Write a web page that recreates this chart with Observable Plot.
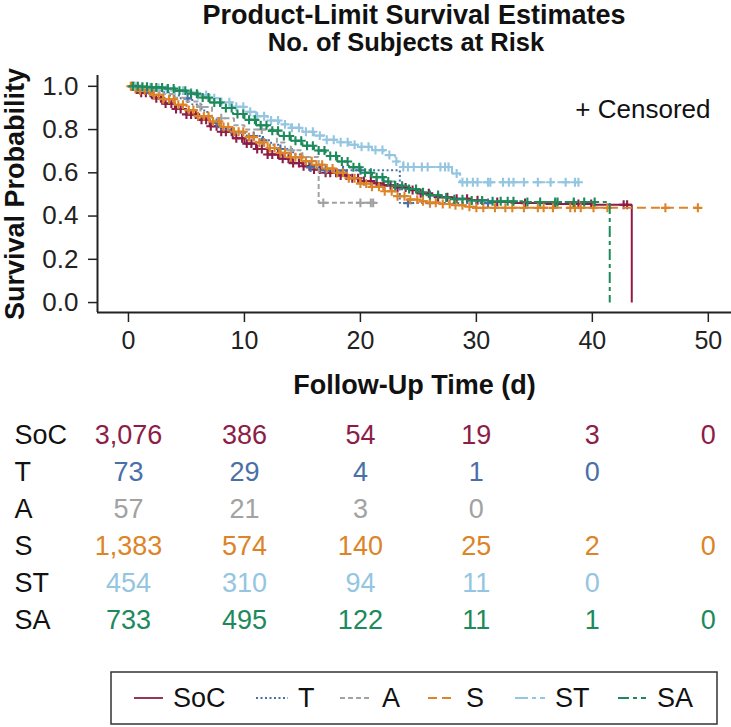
<!DOCTYPE html>
<html><head><meta charset="utf-8">
<script src="https://cdn.jsdelivr.net/npm/d3@7"></script>
<script src="https://cdn.jsdelivr.net/npm/@observablehq/plot@0.6"></script>
<style>
body{margin:0;background:#fff;font-family:"Liberation Sans",Arial,Helvetica,sans-serif;}
#wrap{position:relative;width:731px;height:727px;overflow:hidden;background:#fff;}
.ttl{position:absolute;white-space:nowrap;color:#111;font-weight:bold;line-height:1;transform:translateX(-50%);}
#main{position:absolute;left:0;top:60px;}
#risk{position:absolute;left:0;top:400px;}
#legend{position:absolute;left:0;top:640px;}
</style></head><body><div id="wrap">
<div class="ttl" style="left:414px;top:2px;font-size:27px;">Product-Limit Survival Estimates</div>
<div class="ttl" style="left:406px;top:30px;font-size:25.5px;">No. of Subjects at Risk</div>
<div id="main"></div><div id="risk"></div><svg id="legend" width="731" height="87"></svg>
</div>
<script>
const groups = ["SoC","T","A","S","ST","SA"];
const groupColors = ["#8c1d47","#4a6fa8","#a2a2a2","#dc8427","#94c5e1","#1d8a5c"];
const groupDashes = [null,"2,2.5","5,3","9,5","13,4,4,4","11,4,4,4"];
const xTicks = [0,10,20,30,40,50];
const yTicks = [0,0.2,0.4,0.6,0.8,1];

// Kaplan-Meier knots [time, survival]
const stepsSoC = [[0,1],[0.5,0.985],[1,0.97],[2,0.945],[3,0.92],[4,0.895],[5,0.87],[6,0.845],[7,0.815],[8,0.79],[9,0.76],[10,0.735],[11,0.71],[12,0.685],[13,0.665],[14,0.645],[15,0.63],[16,0.615],[17,0.6],[18,0.588],[19,0.575],[20,0.562],[21,0.552],[22,0.542],[23,0.532],[24.3,0.52],[25,0.505],[26,0.495],[26.6,0.487],[28,0.48],[29.5,0.473],[31,0.465],[33,0.46],[36,0.456],[40,0.452],[43.4,0]];
const stepsT = [[0,1],[1,0.986],[2.5,0.972],[3.5,0.958],[4.5,0.944],[5.5,0.916],[6.3,0.888],[6.8,0.86],[7.3,0.83],[7.8,0.8],[8.8,0.785],[10.2,0.77],[11.5,0.75],[12.3,0.73],[13,0.71],[14.2,0.685],[15,0.655],[15.6,0.625],[16.5,0.612],[23.4,0.46],[31,0.46]];
const stepsA = [[0,1],[1.5,0.982],[3,0.965],[4,0.947],[5,0.93],[6,0.904],[7.2,0.852],[9.1,0.82],[10,0.8],[12.8,0.74],[13.5,0.704],[15,0.673],[16.4,0.461],[21.1,0.461]];
const stepsS = [[0,1],[0.5,0.99],[1,0.98],[2,0.96],[3,0.94],[4,0.915],[5,0.89],[6,0.862],[7,0.837],[8,0.812],[9,0.79],[10,0.765],[11,0.74],[12,0.715],[13,0.692],[14,0.672],[15,0.654],[16,0.637],[17,0.62],[18,0.6],[19,0.575],[20,0.55],[21,0.535],[22,0.515],[23,0.492],[24,0.476],[25,0.468],[26,0.462],[27,0.456],[28,0.45],[29,0.443],[30,0.438],[49.1,0.438]];
const stepsST = [[0,1],[1,0.996],[2,0.992],[3,0.986],[4,0.98],[5,0.972],[6,0.96],[7,0.945],[8,0.926],[9,0.905],[10,0.882],[11,0.862],[12,0.842],[13,0.824],[14,0.808],[15,0.79],[16,0.772],[17,0.753],[18,0.741],[19,0.73],[20,0.72],[21,0.705],[22,0.682],[23,0.652],[23.7,0.627],[27.9,0.597],[28.6,0.556],[38.8,0.556]];
const stepsSA = [[0,1],[1,0.998],[2,0.995],[3,0.99],[4,0.98],[5,0.966],[6,0.948],[7,0.925],[8,0.9],[9,0.872],[10,0.845],[11,0.82],[12,0.795],[13,0.77],[14,0.748],[15,0.725],[16,0.703],[17,0.678],[18,0.652],[19,0.626],[20,0.6],[21,0.58],[22,0.56],[23,0.54],[24,0.525],[25,0.51],[26,0.497],[27,0.486],[28,0.478],[29,0.472],[31,0.468],[34,0.465],[41.5,0]];

// censoring times (read from the + marks)
const censorSoC = [0.3,0.7,1.1,1.5,1.9,2.4,2.8,3.2,3.7,4.1,4.5,5.0,5.4,5.8,6.3,6.7,7.1,7.6,8.0,8.4,8.9,9.3,9.8,10.2,10.6,11.1,11.5,12.0,12.4,12.9,13.3,13.8,14.2,14.7,15.1,15.6,16.0,16.5,17.0,17.4,17.9,18.3,18.8,19.3,19.8,20.3,20.9,21.4,22.0,22.6,23.2,23.9,24.5,25.2,25.9,26.7,27.5,28.3,29.2,30.1,31.8,34.2,36.8,38.4,38.8,39.9,42.7,43.0];
const censorT = [0.5,1.0,1.6,5.1,7.6,10.8,11.6,13.1,15.7,17.0,18.5,20.0,24.1,26.0,31.0];
const censorA = [0.8,2.0,6.2,8.0,11.5,14.0,16.8,20.0,20.9,21.1];
const censorS = [0.2,0.6,1.0,1.4,1.8,2.2,2.6,3.0,3.5,3.9,4.3,4.7,5.2,5.6,6.0,6.5,6.9,7.3,7.8,8.2,8.6,9.1,9.5,9.9,10.4,10.8,11.3,11.7,12.2,12.6,13.1,13.5,14.0,14.4,14.9,15.3,15.8,16.2,16.7,17.1,17.6,18.0,18.5,19.0,19.5,20.0,20.5,21.0,21.6,22.1,22.7,23.2,23.8,24.3,24.9,25.4,26.0,26.5,27.1,27.7,28.2,28.8,29.4,30.0,30.6,31.6,32.5,33.1,34.1,35.3,35.8,36.6,38.1,38.5,39.0,40.1,41.3,46.3,49.1];
const censorST = [0.5,1.2,1.9,2.6,3.3,4.0,4.7,5.4,6.0,6.7,7.4,8.0,8.7,9.3,9.9,10.5,11.1,11.7,12.3,12.9,13.5,14.1,14.7,15.3,15.9,16.5,17.1,17.7,18.3,18.9,19.5,20.1,20.7,21.3,21.9,22.5,23.1,23.7,24.1,24.6,25.3,25.8,26.9,27.3,27.6,28.3,28.8,29.2,29.7,30.1,31.0,31.2,32.3,32.8,33.2,34.1,35.3,36.4,37.7,38.5,38.8];
const censorSA = [0.4,0.8,1.2,1.6,2.0,2.4,2.9,3.4,3.9,4.4,4.9,5.4,5.9,6.4,6.9,7.4,7.9,8.4,8.9,9.4,9.9,10.4,10.9,11.4,11.9,12.4,12.9,13.4,13.9,14.4,14.9,15.4,15.9,16.4,16.9,17.4,17.9,18.4,18.9,19.4,19.9,20.4,20.9,21.4,21.9,22.4,23.0,23.6,24.2,24.8,25.4,26.0,26.7,27.4,28.1,28.8,29.6,30.5,31.4,32.1,32.7,33.2,34.4,35.5,36.8,37.0,38.4,39.3,40.2];

// numbers at risk
const riskTimes = [0,10,20,30,40,50];
const riskSoC = [3076,386,54,19,3,0];
const riskT = [73,29,4,1,0,null];
const riskA = [57,21,3,0,null,null];
const riskS = [1383,574,140,25,2,0];
const riskST = [454,310,94,11,0,null];
const riskSA = [733,495,122,11,1,0];

const stepsBy = {SoC:stepsSoC,T:stepsT,A:stepsA,S:stepsS,ST:stepsST,SA:stepsSA};
const censorBy = {SoC:censorSoC,T:censorT,A:censorA,S:censorS,ST:censorST,SA:censorSA};
const riskBy = {SoC:riskSoC,T:riskT,A:riskA,S:riskS,ST:riskST,SA:riskSA};
const colorOf = Object.fromEntries(groups.map((g,i)=>[g,groupColors[i]]));

function survAt(steps,t){let s=steps[0][1];for(const [tt,ss] of steps){if(tt<=t)s=ss;else break;}return s;}

const xDomain = [-2.67,52];
const yDomain = [-0.046,1.05];
const font = '"Liberation Sans",Arial,Helvetica,sans-serif';

const marks = [
  Plot.axisY({ticks:yTicks,tickFormat:d3.format(".1f"),tickSize:9,tickPadding:10,label:null,fontSize:26,stroke:"#222",strokeWidth:1.5}),
  Plot.axisX({ticks:xTicks,tickSize:10,tickPadding:9,label:null,fontSize:25,stroke:"#222",strokeWidth:1.5}),
  Plot.ruleX([xDomain[0]],{stroke:"#222",strokeWidth:2}),
  Plot.ruleY([yDomain[0]],{stroke:"#222",strokeWidth:2})
];
groups.forEach((g,i)=>{
  const pts = stepsBy[g].map(([t,s])=>({t,s}));
  marks.push(Plot.line(pts,{x:"t",y:"s",curve:"step-after",stroke:groupColors[i],strokeWidth:2,strokeDasharray:groupDashes[i]||undefined,strokeLinecap:"butt",strokeLinejoin:"miter"}));
  const cs = censorBy[g].map(t=>({t,s:survAt(stepsBy[g],t)}));
  marks.push(Plot.dot(cs,{x:"t",y:"s",symbol:"plus",r:3,stroke:groupColors[i],strokeWidth:2.1}));
});
marks.push(Plot.text(["+ Censored"],{text:d=>d,frameAnchor:"top-right",textAnchor:"end",dx:-21,dy:24,fontSize:26,fill:"#111"}));
marks.push(Plot.text(["Survival Probability"],{text:d=>d,frameAnchor:"left",textAnchor:"middle",rotate:-90,dx:-82,dy:0,fontSize:27,fontWeight:"bold",fill:"#111"}));
marks.push(Plot.text(["Follow-Up Time (d)"],{text:d=>d,frameAnchor:"bottom",lineAnchor:"bottom",dy:81,fontSize:27,fontWeight:"bold",fill:"#111"}));

const main = Plot.plot({
  width:731,height:340,marginLeft:97,marginRight:0,marginTop:15,marginBottom:88,
  x:{domain:xDomain},y:{domain:yDomain},
  style:{fontFamily:font,fontSize:"26px",color:"#222",background:"white",overflow:"visible"},
  marks
});
document.getElementById("main").append(main);

const fmt = d3.format(",");
const riskRows = [];
groups.forEach(g=>riskBy[g].forEach((n,i)=>{if(n!=null)riskRows.push({g,t:riskTimes[i],n});}));
const risk = Plot.plot({
  width:731,height:240,marginLeft:97,marginRight:0,marginTop:0,marginBottom:0,
  x:{domain:xDomain,axis:null},
  y:{type:"point",domain:groups,range:[33,222],padding:0,axis:null},
  color:{type:"identity"},
  style:{fontFamily:font,fontSize:"27px",background:"white",overflow:"visible"},
  marks:[
    Plot.text(riskRows,{x:"t",y:"g",text:d=>fmt(d.n),fill:d=>colorOf[d.g],fontSize:27}),
    Plot.text(groups,{y:d=>d,text:d=>d,frameAnchor:"left",textAnchor:"start",dx:-83,fontSize:27,fill:"#111"})
  ]
});
document.getElementById("risk").append(risk);

// legend
const leg = d3.select("#legend");
leg.append("rect").attr("x",111).attr("y",32).attr("width",606).attr("height",52).attr("fill","none").attr("stroke","#333").attr("stroke-width",1.5);
const legX = [[134,163,173],[256,288,298],[340,371,382],[428,456,466],[515,545,555],[618,646,657]];
groups.forEach((g,i)=>{
  const [a,b,c] = legX[i];
  leg.append("line").attr("x1",a).attr("x2",b).attr("y1",58).attr("y2",58).attr("stroke",groupColors[i]).attr("stroke-width",1.8).attr("stroke-dasharray",groupDashes[i]||null);
  leg.append("text").attr("x",c).attr("y",58).attr("dy","0.35em").attr("font-size",27).attr("font-family",font).attr("fill","#111").text(g);
});
</script></body></html>
